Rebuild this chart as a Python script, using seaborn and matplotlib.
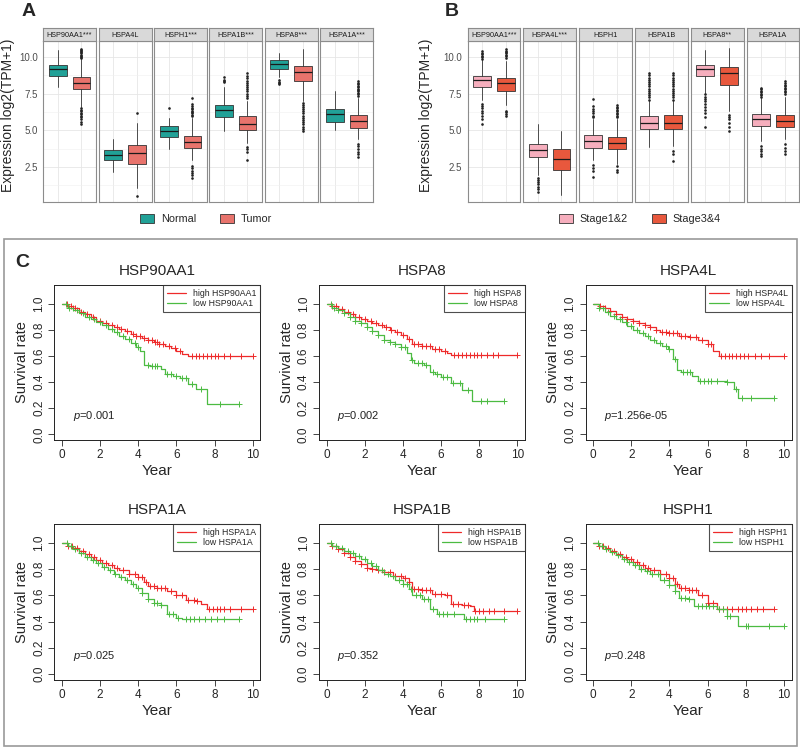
import numpy as np
import matplotlib
matplotlib.use("Agg")
import matplotlib.pyplot as plt
import seaborn as sns
from matplotlib.patches import Patch, Rectangle
from matplotlib.lines import Line2D

# --- Panel A / B: expression boxplots (whislo, q1, median, q3, whishi) ---
genes = ["HSP90AA1", "HSPA4L", "HSPH1", "HSPA1B", "HSPA8", "HSPA1A"]
strip_a = ["HSP90AA1***", "HSPA4L", "HSPH1***", "HSPA1B***", "HSPA8***", "HSPA1A***"]
strip_b = ["HSP90AA1***", "HSPA4L***", "HSPH1", "HSPA1B", "HSPA8**", "HSPA1A"]

normal_box = [[7.95, 8.72, 9.2, 9.47, 10.46], [2.13, 2.96, 3.33, 3.62, 4.38],
              [3.69, 4.52, 4.95, 5.3, 5.87], [4.95, 5.92, 6.38, 6.74, 7.98],
              [8.62, 9.22, 9.5, 9.77, 10.3], [5.0, 5.55, 6.1, 6.44, 7.66]]
normal_fliers = [[], [], [6.51], [8.28, 8.36, 8.45, 8.62], [8.17, 8.25, 8.33, 8.44], []]

tumor_box = [[6.6, 7.82, 8.26, 8.65, 9.9], [1.05, 2.71, 3.44, 3.97, 5.53],
             [3.0, 3.76, 4.22, 4.59, 5.83], [4.15, 5.05, 5.46, 5.99, 7.02],
             [7.0, 8.37, 9.01, 9.36, 10.55], [4.38, 5.18, 5.64, 6.03, 7.2]]
tumor_fliers = [[5.41, 5.6, 5.75, 5.9, 6.0, 6.1, 6.2, 6.3, 6.4, 6.5,
                 9.95, 10.02, 10.1, 10.17, 10.25, 10.33, 10.4, 10.48, 10.55],
                [0.53, 6.15],
                [1.74, 1.95, 2.1, 2.25, 2.4, 2.55, 5.95, 6.05, 6.15, 6.25, 6.35,
                 6.45, 6.55, 6.65, 6.8, 7.2],
                [2.94, 3.55, 3.7, 3.85, 7.2, 7.35, 7.5, 7.65, 7.8, 7.95, 8.1,
                 8.25, 8.4, 8.55, 8.7, 8.9],
                [4.95, 5.1, 5.25, 5.4, 5.55, 5.7, 5.85, 6.0, 6.15, 6.3, 6.45,
                 6.6, 6.75, 6.85],
                [3.17, 3.35, 3.55, 3.75, 3.9, 4.04, 7.35, 7.45, 7.55, 7.65, 7.75,
                 7.85, 7.95, 8.05, 8.15, 8.25, 8.39]]

stage12_box = [[7.04, 7.99, 8.41, 8.73, 9.8], [1.96, 3.16, 3.67, 4.09, 5.43],
               [3.0, 3.81, 4.27, 4.67, 5.77], [3.88, 5.08, 5.52, 5.96, 7.0],
               [7.55, 8.68, 9.17, 9.45, 10.46], [4.27, 5.27, 5.75, 6.1, 7.2]]
stage12_fliers = [[5.43, 5.8, 6.0, 6.2, 6.35, 6.5, 6.65, 6.81,
                   9.9, 10.0, 10.1, 10.2, 10.3, 10.39],
                  [0.81, 1.0, 1.15, 1.3, 1.45, 1.6, 1.73],
                  [1.78, 2.2, 2.4, 2.66, 5.89, 6.0, 6.15, 6.3, 6.45, 6.63, 7.16],
                  [7.1, 7.25, 7.4, 7.55, 7.7, 7.85, 8.0, 8.15, 8.3, 8.45, 8.6, 8.75, 8.89],
                  [5.24, 5.9, 6.2, 6.4, 6.6, 6.8, 7.0, 7.15, 7.3, 7.45],
                  [3.23, 3.4, 3.6, 3.75, 3.93, 7.3, 7.4, 7.5, 7.6, 7.7, 7.8, 7.92]]

stage34_box = [[6.7, 7.67, 8.24, 8.59, 9.7], [0.58, 2.31, 3.03, 3.7, 4.97],
               [2.7, 3.7, 4.16, 4.53, 5.77], [3.93, 5.08, 5.52, 6.07, 7.0],
               [6.35, 8.11, 8.89, 9.35, 10.6], [4.39, 5.24, 5.66, 6.05, 7.25]]
stage34_fliers = [[6.0, 6.12, 6.25, 6.35, 9.93, 10.05, 10.15, 10.25, 10.35, 10.45, 10.55],
                  [],
                  [2.12, 2.3, 2.54, 5.89, 6.0, 6.1, 6.2, 6.3, 6.4, 6.5, 6.6, 6.7],
                  [2.93, 3.4, 3.58, 7.1, 7.25, 7.4, 7.55, 7.7, 7.85, 8.0, 8.15,
                   8.3, 8.45, 8.6, 8.75, 8.94],
                  [4.97, 5.2, 5.5, 5.75, 5.9, 6.07],
                  [3.35, 3.6, 3.8, 4.04, 7.5, 7.6, 7.7, 7.8, 7.9, 8.0, 8.1, 8.2, 8.38]]

# --- Panel C: Kaplan-Meier curves (knot times / survival, censor times) ---
km_genes = ["HSP90AA1", "HSPA8", "HSPA4L", "HSPA1A", "HSPA1B", "HSPH1"]
km_pvals = ["0.001", "0.002", "1.256e-05", "0.025", "0.352", "0.248"]

hsp90aa1_hi_t = [0, 0.3, 0.6, 0.9, 1.2, 1.5, 1.8, 2.1, 2.4, 2.7, 3.0, 3.3, 3.6, 3.9, 4.2, 4.5, 4.8, 5.1, 5.4, 5.7, 6.0, 6.3, 6.6, 10.0]
hsp90aa1_hi_s = [1.0, 0.985, 0.965, 0.94, 0.92, 0.895, 0.87, 0.85, 0.835, 0.82, 0.805, 0.79, 0.77, 0.755, 0.74, 0.725, 0.71, 0.695, 0.68, 0.66, 0.635, 0.615, 0.60, 0.60]
hsp90aa1_hi_c = [0.25, 0.45, 0.7, 1.0, 1.3, 1.6, 2.0, 2.3, 2.6, 2.9, 3.1, 3.4, 3.7, 3.9, 4.1, 4.3, 4.5, 4.7, 4.9, 5.0, 5.1, 5.3, 5.6, 5.9, 6.2, 6.8, 7.0, 7.2, 7.4, 7.6, 7.8, 8.0, 8.2, 8.5, 8.8, 9.4, 10.0]
hsp90aa1_lo_t = [0, 0.3, 0.6, 0.9, 1.2, 1.5, 1.8, 2.1, 2.4, 2.7, 3.0, 3.3, 3.6, 3.9, 4.1, 4.3, 4.6, 5.2, 5.4, 5.8, 6.2, 6.6, 7.0, 7.6, 9.3]
hsp90aa1_lo_s = [1.0, 0.97, 0.95, 0.93, 0.90, 0.88, 0.86, 0.84, 0.81, 0.78, 0.75, 0.73, 0.70, 0.67, 0.64, 0.53, 0.52, 0.50, 0.46, 0.445, 0.43, 0.385, 0.35, 0.23, 0.23]
hsp90aa1_lo_c = [0.2, 0.35, 0.55, 0.8, 1.1, 1.4, 1.7, 2.0, 2.3, 2.6, 2.9, 3.2, 3.5, 3.8, 4.0, 4.5, 4.7, 4.9, 5.0, 5.5, 5.7, 6.0, 6.3, 6.5, 6.8, 7.3, 8.3, 9.3]

hspa8_hi_t = [0, 0.3, 0.6, 0.9, 1.2, 1.5, 1.8, 2.1, 2.4, 2.7, 3.0, 3.3, 3.6, 3.9, 4.2, 4.5, 5.0, 5.5, 6.0, 6.3, 6.5, 10.0]
hspa8_hi_s = [1.0, 0.98, 0.96, 0.94, 0.92, 0.90, 0.885, 0.87, 0.85, 0.835, 0.82, 0.80, 0.78, 0.76, 0.73, 0.69, 0.675, 0.65, 0.64, 0.62, 0.605, 0.605]
hspa8_hi_c = [0.3, 0.5, 0.8, 1.1, 1.4, 1.7, 2.0, 2.3, 2.6, 2.9, 3.1, 3.4, 3.7, 4.0, 4.3, 4.6, 4.8, 5.0, 5.2, 5.4, 5.7, 5.9, 6.2, 6.7, 6.9, 7.1, 7.3, 7.5, 7.7, 7.9, 8.1, 8.4, 8.7, 9.0, 10.0]
hspa8_lo_t = [0, 0.3, 0.6, 0.9, 1.2, 1.5, 1.8, 2.1, 2.4, 2.7, 3.0, 3.3, 3.6, 3.9, 4.2, 4.4, 4.6, 5.1, 5.4, 5.7, 6.0, 6.5, 7.1, 7.6, 9.3]
hspa8_lo_s = [1.0, 0.97, 0.95, 0.93, 0.90, 0.87, 0.85, 0.82, 0.79, 0.76, 0.725, 0.71, 0.69, 0.67, 0.62, 0.57, 0.545, 0.53, 0.48, 0.46, 0.44, 0.39, 0.34, 0.255, 0.255]
hspa8_lo_c = [0.25, 0.4, 0.6, 0.9, 1.2, 1.5, 1.8, 2.1, 2.4, 2.7, 3.0, 3.3, 3.6, 3.9, 4.1, 4.5, 4.8, 5.0, 5.2, 5.6, 5.8, 6.1, 6.3, 6.6, 7.0, 7.4, 8.1, 8.4, 9.3]

hspa4l_hi_t = [0, 0.3, 0.6, 0.9, 1.2, 1.5, 1.8, 2.1, 2.4, 2.7, 3.0, 3.3, 3.5, 4.0, 4.5, 5.0, 5.5, 6.0, 6.3, 6.6, 10.0]
hspa4l_hi_s = [1.0, 0.985, 0.97, 0.945, 0.925, 0.90, 0.88, 0.865, 0.85, 0.835, 0.82, 0.80, 0.78, 0.775, 0.755, 0.745, 0.72, 0.69, 0.64, 0.60, 0.60]
hspa4l_hi_c = [0.35, 0.6, 0.9, 1.2, 1.5, 1.8, 2.1, 2.4, 2.7, 3.0, 3.3, 3.6, 3.8, 4.0, 4.2, 4.4, 4.6, 4.8, 5.1, 5.4, 5.7, 6.0, 6.2, 6.7, 6.9, 7.1, 7.3, 7.5, 7.7, 7.9, 8.1, 8.5, 8.8, 9.2, 10.0]
hspa4l_lo_t = [0, 0.3, 0.6, 0.9, 1.2, 1.5, 1.8, 2.1, 2.4, 2.7, 3.0, 3.3, 3.6, 3.9, 4.2, 4.4, 4.6, 5.2, 5.5, 7.0, 7.4, 7.6, 9.5]
hspa4l_lo_s = [1.0, 0.965, 0.94, 0.91, 0.885, 0.86, 0.83, 0.80, 0.775, 0.75, 0.72, 0.70, 0.675, 0.65, 0.58, 0.49, 0.48, 0.45, 0.405, 0.40, 0.345, 0.277, 0.277]
hspa4l_lo_c = [0.3, 0.5, 0.8, 1.1, 1.4, 1.7, 2.0, 2.3, 2.6, 2.9, 3.2, 3.5, 3.8, 4.0, 4.3, 4.7, 4.9, 5.1, 5.6, 5.8, 6.0, 6.2, 6.5, 7.0, 7.5, 7.8, 8.3, 9.5]

hspa1a_hi_t = [0, 0.3, 0.6, 0.9, 1.2, 1.5, 1.8, 2.1, 2.4, 2.7, 3.0, 3.5, 4.0, 4.3, 4.5, 5.0, 5.5, 6.0, 6.5, 7.0, 7.3, 7.6, 10.0]
hspa1a_hi_s = [1.0, 0.98, 0.96, 0.935, 0.915, 0.89, 0.87, 0.85, 0.83, 0.81, 0.79, 0.765, 0.74, 0.70, 0.675, 0.66, 0.635, 0.60, 0.565, 0.56, 0.535, 0.495, 0.495]
hspa1a_hi_c = [0.3, 0.5, 0.8, 1.1, 1.4, 1.7, 2.0, 2.3, 2.6, 2.9, 3.2, 3.5, 3.8, 4.0, 4.2, 4.4, 4.6, 4.8, 5.0, 5.2, 5.4, 5.7, 6.0, 6.3, 6.6, 6.9, 7.1, 7.7, 7.9, 8.1, 8.3, 8.5, 8.8, 9.4, 10.0]
hspa1a_lo_t = [0, 0.3, 0.6, 0.9, 1.2, 1.5, 1.8, 2.1, 2.4, 2.7, 3.0, 3.3, 3.6, 3.9, 4.2, 4.5, 4.8, 5.2, 5.5, 6.0, 6.3, 9.3]
hspa1a_lo_s = [1.0, 0.975, 0.95, 0.92, 0.895, 0.87, 0.845, 0.815, 0.79, 0.765, 0.74, 0.715, 0.69, 0.66, 0.62, 0.57, 0.54, 0.53, 0.455, 0.43, 0.418, 0.418]
hspa1a_lo_c = [0.25, 0.45, 0.7, 1.0, 1.3, 1.6, 1.9, 2.2, 2.5, 2.8, 3.1, 3.4, 3.7, 4.0, 4.2, 4.5, 4.8, 5.0, 5.2, 5.6, 5.8, 6.1, 6.5, 6.7, 6.9, 7.2, 7.5, 7.8, 8.1, 8.5, 9.3]

hspa1b_hi_t = [0, 0.3, 0.6, 0.9, 1.2, 1.5, 1.8, 2.1, 2.4, 2.7, 3.0, 3.5, 4.0, 4.3, 4.5, 5.0, 5.5, 6.2, 6.5, 7.1, 7.5, 7.7, 10.0]
hspa1b_hi_s = [1.0, 0.975, 0.95, 0.92, 0.895, 0.865, 0.84, 0.81, 0.80, 0.79, 0.78, 0.75, 0.73, 0.70, 0.65, 0.64, 0.61, 0.605, 0.535, 0.53, 0.52, 0.485, 0.485]
hspa1b_hi_c = [0.3, 0.6, 0.9, 1.2, 1.5, 1.8, 2.1, 2.4, 2.7, 3.0, 3.3, 3.6, 3.9, 4.1, 4.3, 4.6, 4.8, 5.0, 5.2, 5.4, 5.7, 6.0, 6.3, 6.6, 6.9, 7.2, 7.4, 7.8, 8.0, 8.2, 8.5, 8.8, 9.3, 10.0]
hspa1b_lo_t = [0, 0.3, 0.6, 0.9, 1.2, 1.5, 1.8, 2.1, 2.4, 2.7, 3.0, 3.3, 3.6, 4.0, 4.3, 4.5, 5.0, 5.4, 5.8, 6.5, 7.2, 9.3]
hspa1b_lo_s = [1.0, 0.98, 0.96, 0.94, 0.92, 0.90, 0.875, 0.85, 0.825, 0.795, 0.765, 0.745, 0.72, 0.69, 0.65, 0.60, 0.575, 0.50, 0.46, 0.46, 0.42, 0.42]
hspa1b_lo_c = [0.25, 0.5, 0.8, 1.1, 1.4, 1.7, 2.0, 2.3, 2.6, 2.9, 3.2, 3.5, 3.8, 4.0, 4.2, 4.4, 4.7, 4.9, 5.1, 5.3, 5.6, 5.9, 6.1, 6.3, 6.7, 7.3, 7.5, 7.7, 7.9, 8.3, 9.3]

hsph1_hi_t = [0, 0.3, 0.6, 0.9, 1.2, 1.5, 1.8, 2.1, 2.4, 2.7, 3.0, 3.5, 4.0, 4.3, 4.5, 5.0, 5.5, 6.0, 6.5, 9.5]
hsph1_hi_s = [1.0, 0.98, 0.96, 0.935, 0.915, 0.895, 0.875, 0.855, 0.83, 0.81, 0.795, 0.765, 0.73, 0.69, 0.655, 0.645, 0.605, 0.54, 0.50, 0.50]
hsph1_hi_c = [0.3, 0.5, 0.8, 1.1, 1.4, 1.7, 2.0, 2.3, 2.6, 2.9, 3.2, 3.5, 3.8, 4.0, 4.2, 4.4, 4.6, 4.8, 5.0, 5.2, 5.4, 5.7, 6.0, 6.3, 6.6, 6.8, 7.0, 7.3, 7.6, 7.8, 8.0, 8.3, 8.6, 8.9, 9.5]
hsph1_lo_t = [0, 0.3, 0.6, 0.9, 1.2, 1.5, 1.8, 2.1, 2.4, 2.7, 3.0, 3.5, 4.0, 4.3, 4.5, 5.0, 5.3, 6.5, 7.0, 7.6, 10.0]
hsph1_lo_s = [1.0, 0.975, 0.955, 0.93, 0.905, 0.88, 0.855, 0.83, 0.805, 0.785, 0.76, 0.72, 0.68, 0.63, 0.58, 0.575, 0.52, 0.50, 0.445, 0.37, 0.37]
hsph1_lo_c = [0.25, 0.45, 0.7, 1.0, 1.3, 1.6, 1.9, 2.2, 2.5, 2.8, 3.1, 3.4, 3.7, 4.0, 4.3, 4.6, 4.8, 5.0, 5.5, 5.7, 5.9, 6.1, 6.3, 6.6, 6.8, 7.0, 7.2, 8.0, 8.1, 9.2, 10.0]

W, H = 800, 748
TEAL, SALMON = "#21A197", "#E8736C"
PINK, ORANGE = "#F6AEBD", "#E8583D"
KM_RED, KM_GREEN = "#EE2A2A", "#4CBB42"


def rect(left, top, right, bottom):
    """Pixel box (top-left origin) -> figure fraction rect."""
    return [left / W, 1 - bottom / H, (right - left) / W, (bottom - top) / H]


def draw_box_panel(fig, lefts, strips, box_a, fl_a, box_b, fl_b, col_a, col_b, label_right):
    width = 52.5
    for i, x0 in enumerate(lefts):
        ax = fig.add_axes(rect(x0, 41, x0 + width, 202))
        stats = [dict(whislo=box_a[i][0], q1=box_a[i][1], med=box_a[i][2], q3=box_a[i][3],
                      whishi=box_a[i][4], fliers=fl_a[i]),
                 dict(whislo=box_b[i][0], q1=box_b[i][1], med=box_b[i][2], q3=box_b[i][3],
                      whishi=box_b[i][4], fliers=fl_b[i])]
        res = ax.bxp(stats, positions=[1, 2], widths=0.75, patch_artist=True, showcaps=False,
                     boxprops=dict(edgecolor="#333333", linewidth=0.6),
                     medianprops=dict(color="#1a1a1a", linewidth=0.9),
                     whiskerprops=dict(color="#333333", linewidth=0.6),
                     flierprops=dict(marker="o", markersize=1.9, markerfacecolor="#222222",
                                     markeredgecolor="none"))
        for patch, c in zip(res["boxes"], [col_a, col_b]):
            patch.set_facecolor(c)
        ax.set_xlim(0.4, 2.6)
        ax.set_ylim(0.1, 11.1)
        ax.set_xticks([1, 2])
        ax.set_xticklabels([])
        ax.set_yticks([2.5, 5.0, 7.5, 10.0])
        ax.set_yticks([1.25, 3.75, 6.25, 8.75], minor=True)
        ax.grid(True, which="major", color="#E6E6E6", linewidth=0.6)
        ax.grid(True, which="minor", axis="y", color="#F0F0F0", linewidth=0.4)
        ax.set_axisbelow(True)
        ax.tick_params(axis="x", length=0)
        ax.tick_params(axis="y", which="minor", length=0)
        if i == 0:
            ax.set_yticklabels(["2.5", "5.0", "7.5", "10.0"])
            ax.tick_params(axis="y", length=2.5, width=0.5, colors="#4D4D4D",
                           labelsize=7, pad=1.5)
            ax.set_ylabel("Expression log2(TPM+1)", fontsize=10)
            ax.yaxis.set_label_coords((label_right - x0) / width, 0.54)
        else:
            ax.set_yticklabels([])
            ax.tick_params(axis="y", length=0)
        for sp in ax.spines.values():
            sp.set_color("#8C8C8C")
            sp.set_linewidth(0.8)
        # facet strip
        sax = fig.add_axes(rect(x0, 28.3, x0 + width, 41))
        sax.set_facecolor("#D9D9D9")
        sax.set_xticks([])
        sax.set_yticks([])
        for sp in sax.spines.values():
            sp.set_color("#8C8C8C")
            sp.set_linewidth(0.8)
        sax.text(0.5, 0.45, strips[i], ha="center", va="center", fontsize=5.2,
                 color="#1a1a1a", transform=sax.transAxes)


def step_at(t, s, x):
    idx = np.searchsorted(np.asarray(t), np.asarray(x), side="right") - 1
    return np.asarray(s)[idx]


def draw_km(ax, gene, pval, hi_t, hi_s, hi_c, lo_t, lo_s, lo_c):
    for t, s, c, col in [(hi_t, hi_s, hi_c, KM_RED), (lo_t, lo_s, lo_c, KM_GREEN)]:
        sns.lineplot(x=t, y=s, drawstyle="steps-post", color=col, linewidth=0.9,
                     estimator=None, ax=ax)
        sns.scatterplot(x=c, y=step_at(t, s, c), marker="+", s=22, color=col,
                        linewidth=0.7, ax=ax)
    ax.set_xlim(-0.4, 10.4)
    ax.set_ylim(-0.044, 1.144)
    ax.set_xticks([0, 2, 4, 6, 8, 10])
    ax.set_yticks([0.0, 0.2, 0.4, 0.6, 0.8, 1.0])
    ax.set_yticklabels(["0.0", "0.2", "0.4", "0.6", "0.8", "1.0"], rotation=90, va="center")
    ax.tick_params(axis="both", length=4, width=0.6, labelsize=8.5, pad=2.5,
                   direction="out", left=True, bottom=True)
    ax.set_xlabel("Year", fontsize=11, labelpad=2)
    ax.set_ylabel("Survival rate", fontsize=10.5, labelpad=3)
    ax.set_title(gene, fontsize=11, pad=7)
    for sp in ax.spines.values():
        sp.set_color("#222222")
        sp.set_linewidth(0.7)
    handles = [Line2D([], [], color=KM_RED, lw=0.9), Line2D([], [], color=KM_GREEN, lw=0.9)]
    leg = ax.legend(handles, [f"high {gene}", f"low {gene}"], loc="upper right",
                    fontsize=6.3, frameon=True, fancybox=False, edgecolor="#222222",
                    borderaxespad=0, handlelength=2.2, borderpad=0.45, labelspacing=0.15)
    leg.get_frame().set_linewidth(0.8)
    ax.text(0.55, 0.14, r"$\it{p}$=" + pval, fontsize=8, color="#222222", va="center")


# --- Main execution ---
if __name__ == "__main__":
    sns.set_theme(style="white")
    plt.rcParams["font.family"] = ["Liberation Sans", "DejaVu Sans"]
    plt.rcParams["mathtext.fontset"] = "custom"
    plt.rcParams["mathtext.it"] = "Liberation Sans:italic"
    plt.rcParams["mathtext.rm"] = "Liberation Sans"

    fig = plt.figure(figsize=(W / 100, H / 100), dpi=100)

    lefts_a = [43.3, 99.0, 154.3, 209.3, 265.0, 320.3]
    lefts_b = [467.7, 523.3, 579.0, 635.0, 691.0, 746.7]
    draw_box_panel(fig, lefts_a, strip_a, normal_box, normal_fliers, tumor_box, tumor_fliers,
                   TEAL, SALMON, label_right=15)
    draw_box_panel(fig, lefts_b, strip_b, stage12_box, stage12_fliers, stage34_box,
                   stage34_fliers, PINK, ORANGE, label_right=433)

    def legend_handles(c1, c2):
        return [Patch(facecolor=c1, edgecolor="#333333", linewidth=0.6),
                Patch(facecolor=c2, edgecolor="#333333", linewidth=0.6)]

    fig.legend(legend_handles(TEAL, SALMON), ["Normal", "Tumor"], loc="center",
               bbox_to_anchor=(206 / W, 1 - 219 / H), ncol=2, frameon=False, fontsize=7.8,
               handlelength=1.3, handleheight=1.0, columnspacing=2.2, handletextpad=0.6)
    fig.legend(legend_handles(PINK, ORANGE), ["Stage1&2", "Stage3&4"], loc="center",
               bbox_to_anchor=(640 / W, 1 - 219 / H), ncol=2, frameon=False, fontsize=7.8,
               handlelength=1.3, handleheight=1.0, columnspacing=2.2, handletextpad=0.6)

    fig.text(22 / W, 1 - 11 / H, "A", fontsize=14, weight="bold", va="center")
    fig.text(445 / W, 1 - 11 / H, "B", fontsize=14, weight="bold", va="center")

    # --- Panel C frame and KM grid ---
    fig.add_artist(Rectangle((4 / W, 1 - 746 / H), 793 / W, 507 / H, transform=fig.transFigure,
                             fill=False, edgecolor="#9A9A9A", linewidth=1.2))
    fig.text(15 / W, 1 - 262 / H, "C", fontsize=14, weight="bold", va="center")

    km_series = [
        (hsp90aa1_hi_t, hsp90aa1_hi_s, hsp90aa1_hi_c, hsp90aa1_lo_t, hsp90aa1_lo_s, hsp90aa1_lo_c),
        (hspa8_hi_t, hspa8_hi_s, hspa8_hi_c, hspa8_lo_t, hspa8_lo_s, hspa8_lo_c),
        (hspa4l_hi_t, hspa4l_hi_s, hspa4l_hi_c, hspa4l_lo_t, hspa4l_lo_s, hspa4l_lo_c),
        (hspa1a_hi_t, hspa1a_hi_s, hspa1a_hi_c, hspa1a_lo_t, hspa1a_lo_s, hspa1a_lo_c),
        (hspa1b_hi_t, hspa1b_hi_s, hspa1b_hi_c, hspa1b_lo_t, hspa1b_lo_s, hspa1b_lo_c),
        (hsph1_hi_t, hsph1_hi_s, hsph1_hi_c, hsph1_lo_t, hsph1_lo_s, hsph1_lo_c),
    ]
    km_lefts = [54.4, 319.0, 585.5]
    km_rows = [(285, 440), (524, 680)]
    for k, gene in enumerate(km_genes):
        top, bottom = km_rows[k // 3]
        left = km_lefts[k % 3]
        ax = fig.add_axes(rect(left, top, left + 206, bottom))
        draw_km(ax, gene, km_pvals[k], *km_series[k])

    fig.savefig("out.png", dpi=100)
